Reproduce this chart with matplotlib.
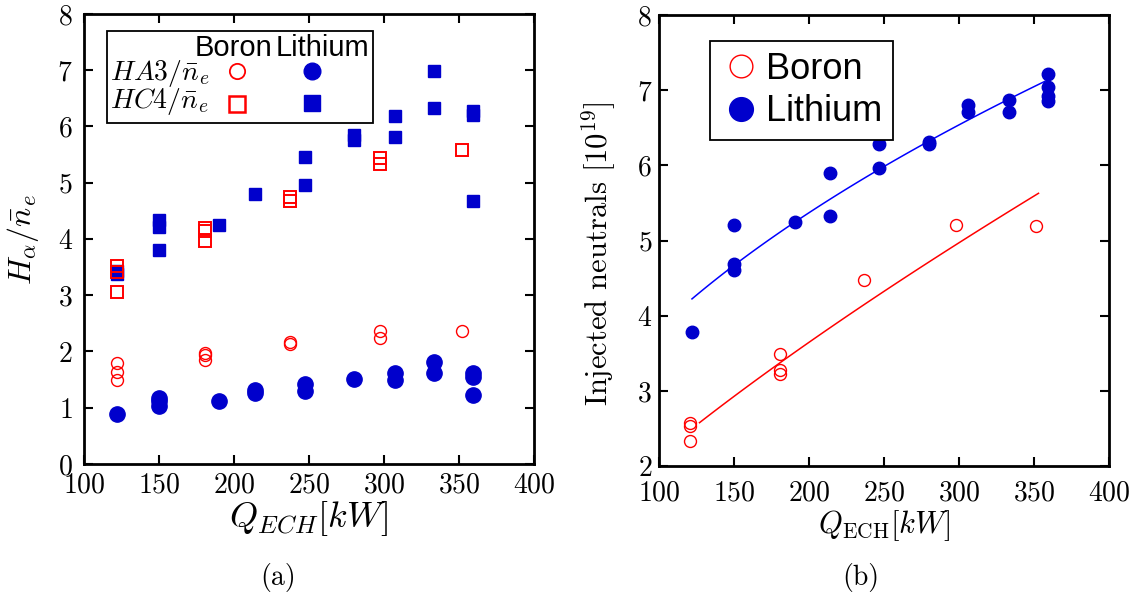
import numpy as np
import matplotlib.pyplot as plt
from matplotlib.patches import Rectangle

plt.rcParams['mathtext.fontset'] = 'cm'
plt.rcParams['font.family'] = ['cmr10', 'DejaVu Sans']
plt.rcParams['axes.formatter.use_mathtext'] = True

RED = '#ff0000'
BLUE = '#0000cc'

# (a) H_alpha / n_e against ECH power
ha3_boron_x = [122, 122, 122, 181, 181, 181, 237, 237, 297, 297, 352]
ha3_boron_y = [1.80, 1.64, 1.49, 1.98, 1.93, 1.85, 2.17, 2.13, 2.37, 2.24, 2.36]
ha3_li_x = [122, 150, 150, 150, 190, 214, 214, 247, 247, 280, 307, 307, 333, 333, 359, 359, 359]
ha3_li_y = [0.89, 1.17, 1.12, 1.03, 1.12, 1.31, 1.26, 1.42, 1.29, 1.51, 1.61, 1.50, 1.82, 1.62, 1.61, 1.55, 1.22]
hc4_boron_x = [122, 122, 122, 181, 181, 181, 237, 237, 297, 297, 352]
hc4_boron_y = [3.52, 3.42, 3.06, 4.20, 4.14, 3.96, 4.75, 4.68, 5.44, 5.34, 5.59]
hc4_li_x = [122, 122, 150, 150, 150, 190, 214, 247, 247, 280, 280, 307, 307, 333, 333, 359, 359, 359]
hc4_li_y = [3.38, 3.43, 4.33, 4.22, 3.80, 4.25, 4.80, 5.46, 4.96, 5.85, 5.76, 6.19, 5.82, 6.99, 6.32, 6.28, 6.20, 4.68]

# (b) injected neutrals [1e19]
inj_boron_x = [121, 121, 121, 181, 181, 181, 237, 298, 351]
inj_boron_y = [2.57, 2.53, 2.33, 3.49, 3.28, 3.23, 4.48, 5.21, 5.19]
inj_li_x = [122, 150, 150, 150, 191, 214, 214, 247, 247, 280, 280, 306, 306, 333, 333, 359, 359, 359, 359]
inj_li_y = [3.78, 5.20, 4.69, 4.61, 5.24, 5.90, 5.32, 6.28, 5.96, 6.31, 6.29, 6.80, 6.71, 6.87, 6.71, 7.21, 7.04, 6.92, 6.85]
fit_range_boron = [127, 353]
fit_range_li = [122, 358]

fig = plt.figure(figsize=(11.35, 5.98), dpi=100)
ax1 = fig.add_axes([0.0740, 0.2241, 0.3965, 0.7525])
ax2 = fig.add_axes([0.5806, 0.2207, 0.3965, 0.7542])

for ax in (ax1, ax2):
    ax.set_xlim(100, 400)
    ax.set_xticks([100, 150, 200, 250, 300, 350, 400])
    for s in ax.spines.values():
        s.set_linewidth(2.0)
    ax.tick_params(direction='in', top=True, right=True, length=6.5, width=1.5, labelsize=20)

ax1.set_ylim(0, 8)
ax1.tick_params(axis='y', pad=8)
ax1.tick_params(axis='x', pad=6)
ax2.set_ylim(2, 8)
ax2.tick_params(axis='y', pad=5)
ax2.tick_params(axis='x', pad=10)

# panel (a)
ax1.plot(hc4_li_x, hc4_li_y, 's', color=BLUE, ms=9, mec=BLUE, ls='none')
ax1.plot(hc4_boron_x, hc4_boron_y, 's', mfc='none', mec=RED, ms=8.5, mew=1.4, ls='none')
ax1.plot(ha3_li_x, ha3_li_y, 'o', color=BLUE, ms=11, mec=BLUE, ls='none')
ax1.plot(ha3_boron_x, ha3_boron_y, 'o', mfc='none', mec=RED, ms=8.6, mew=1.0, ls='none')
ax1.set_xlabel(r'$Q_{ECH}[kW]$', fontsize=26, labelpad=0)
ax1.set_ylabel(r'$H_\alpha/\bar{n}_e$', fontsize=23)
ax1.yaxis.set_label_coords(-0.095, 0.5)

# custom legend table for (a)
ax1.add_patch(Rectangle((0.051, 0.758), 0.591, 0.204, transform=ax1.transAxes,
                        fill=True, fc='white', ec='black', lw=1.3, zorder=5))
ax1.text(0.333, 0.925, 'Boron', family='Liberation Sans', fontsize=21,
         ha='center', va='center', transform=ax1.transAxes, zorder=6)
ax1.text(0.530, 0.925, 'Lithium', family='Liberation Sans', fontsize=21,
         ha='center', va='center', transform=ax1.transAxes, zorder=6)
ax1.text(0.058, 0.868, r'$HA3/\bar{n}_e$', fontsize=20, ha='left', va='center',
         transform=ax1.transAxes, zorder=6)
ax1.text(0.058, 0.805, r'$HC4/\bar{n}_e$', fontsize=20, ha='left', va='center',
         transform=ax1.transAxes, zorder=6)
ax1.plot([0.34], [0.873], 'o', mfc='none', mec=RED, ms=11, mew=1.3, transform=ax1.transAxes, zorder=6)
ax1.plot([0.507], [0.873], 'o', color=BLUE, ms=12, transform=ax1.transAxes, zorder=6)
ax1.plot([0.34], [0.800], 's', mfc='none', mec=RED, ms=11, mew=1.8, transform=ax1.transAxes, zorder=6)
ax1.plot([0.507], [0.802], 's', color=BLUE, ms=12, transform=ax1.transAxes, zorder=6)

# panel (b) with power-law fits
def power_fit(x, y, xr):
    b, a = np.polyfit(np.log(x), np.log(y), 1)
    xx = np.linspace(xr[0], xr[1], 100)
    return xx, np.exp(a) * xx ** b

fx, fy = power_fit(inj_boron_x, inj_boron_y, fit_range_boron)
ax2.plot(fx, fy, '-', color=RED, lw=1.1)
fx, fy = power_fit(inj_li_x, inj_li_y, fit_range_li)
ax2.plot(fx, fy, '-', color='#0000ff', lw=1.1)
ax2.plot(inj_boron_x, inj_boron_y, 'o', mfc='none', mec=RED, ms=8.6, mew=1.0, ls='none', label='Boron')
ax2.plot(inj_li_x, inj_li_y, 'o', color=BLUE, ms=9, ls='none', label='Lithium')
ax2.set_xlabel(r'$Q_{\mathrm{ECH}}[kW]$', fontsize=22, labelpad=1)
ax2.set_ylabel(r'Injected neutrals [$10^{19}$]', fontsize=22)
ax2.yaxis.set_label_coords(-0.09, 0.47)
leg = ax2.legend(loc='upper left', bbox_to_anchor=(0.113, 0.942), borderaxespad=0,
                 fancybox=False, edgecolor='black', framealpha=1, markerscale=1.9,
                 handletextpad=0.15, handlelength=1.1, borderpad=0.3, labelspacing=0.2,
                 prop={'family': 'Liberation Sans', 'size': 26})
leg.get_frame().set_linewidth(1.3)

fig.text(0.245, 0.034, '(a)', fontsize=20, ha='center', va='center')
fig.text(0.758, 0.034, '(b)', fontsize=20, ha='center', va='center')

fig.savefig('out.png', dpi=100)
